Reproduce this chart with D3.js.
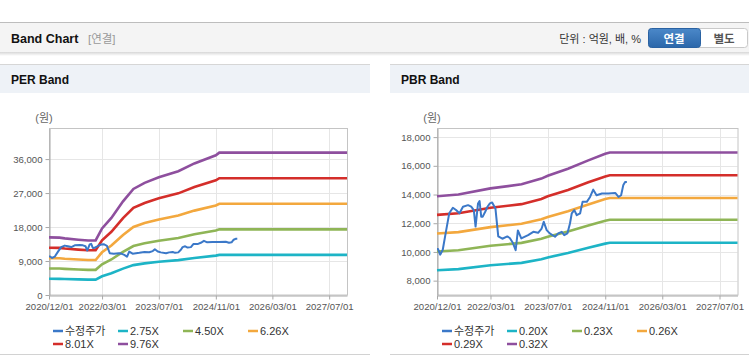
<!DOCTYPE html>
<html>
<head>
<meta charset="utf-8">
<script src="https://cdn.jsdelivr.net/npm/d3@7"></script>
<style>
  body { margin: 0; background: #fff; }
  svg { display: block; font-family: "Liberation Sans", "Noto Sans CJK KR", sans-serif; }
</style>
</head>
<body>
<svg id="page" width="749" height="364"></svg>
<script>
'use strict'

// shared x axis
const xRange = ['2020-12-01', '2027-12-01']
const xTickDates = ['2020-12-01', '2022-03-01', '2023-07-01', '2024-11-01', '2026-03-01', '2027-07-01']

// 수정주가 (same series in both charts)
const priceDates = ['2020-12-01','2020-12-10','2020-12-28','2021-01-19','2021-02-15','2021-03-15','2021-04-15','2021-05-12','2021-06-10','2021-07-10',
  '2021-08-22','2021-09-18','2021-10-10','2021-10-25','2021-11-15','2021-11-28','2021-12-12','2021-12-25','2022-01-15','2022-02-03',
  '2022-02-24','2022-03-15','2022-04-12','2022-05-06','2022-06-10','2022-07-22','2022-08-12','2022-09-08','2022-10-01','2022-10-20',
  '2022-11-18','2023-01-15','2023-02-28','2023-04-10','2023-05-10','2023-05-28','2023-06-22','2023-07-18','2023-09-01','2023-09-28',
  '2023-10-28','2023-11-18','2023-12-15','2024-01-06','2024-01-21','2024-02-12','2024-03-04','2024-04-01','2024-04-22','2024-05-28',
  '2024-06-25','2024-07-22','2024-08-19','2024-10-04','2024-11-28','2025-01-25','2025-02-22','2025-03-16','2025-04-03','2025-04-19','2025-05-04']
const priceValues = [10200,10200,9810,10150,11420,12690,13080,12920,12690,13150,
  13260,13150,12920,11770,13380,13550,12460,12460,12800,13150,
  13380,13450,13030,11080,10920,11080,10970,10620,10120,11500,
  10940,11170,11400,11330,11630,12100,11520,11290,11060,11290,
  11400,11170,11290,11980,12680,12910,12560,12680,13490,13490,
  13830,14340,13950,14070,14070,14110,13830,13950,14640,14870,14870]

// PER band
const perLabels = ['수정주가', '2.75X', '4.50X', '6.26X', '8.01X', '9.76X']
const perTicks = [0, 9000, 18000, 27000, 36000]
const perBandDates = ['2020-12-01','2021-03-01','2021-04-15','2021-08-10','2021-11-01','2022-01-05','2022-03-01','2022-05-20','2022-08-28',
  '2022-11-25','2023-03-01','2023-07-01','2023-12-15','2024-05-01','2024-11-01','2024-12-01','2027-12-01']
const per275 = [4300,4280,4230,4130,4070,4070,4970,5750,6990,7920,8370,8790,9240,9820,10430,10620,10620]
const per450 = [7030,7010,6920,6760,6660,6660,8130,9410,11440,12960,13700,14390,15120,16070,17060,17380,17380]
const per626 = [9780,9750,9620,9400,9270,9270,11310,13090,15910,18020,19050,20010,21040,22350,23730,24180,24180]
const per801 = [12520,12470,12310,12020,11860,11860,14470,16740,20350,23060,24380,25610,26920,28600,30370,30940,30940]
const per976 = [15250,15200,15000,14650,14450,14450,17640,20400,24800,28100,29700,31200,32800,34850,37000,37700,37700]

// PBR band
const pbrLabels = ['수정주가', '0.20X', '0.23X', '0.26X', '0.29X', '0.32X']
const pbrTicks = [8000, 10000, 12000, 14000, 16000, 18000]
const pbrBandDates = ['2020-12-01','2021-06-01','2022-03-01','2022-11-20','2023-05-08','2023-07-01','2023-12-20','2024-06-10','2024-11-01','2024-12-10','2027-12-01']
const pbr020 = [8720,8800,9070,9240,9490,9620,9930,10290,10580,10640,10640]
const pbr023 = [10030,10120,10430,10630,10920,11060,11420,11840,12170,12240,12240]
const pbr026 = [11280,11380,11730,11960,12280,12440,12840,13310,13690,13760,13760]
const pbr029 = [12580,12690,13080,13330,13690,13880,14320,14850,15260,15340,15340]
const pbr032 = [13880,14000,14430,14710,15110,15310,15800,16380,16840,16930,16930]

const colors = ['#3b78c8', '#1db4c6', '#8fb556', '#f3a83e', '#d42e2a', '#8e4f9e']

const parse = d3.timeParse('%Y-%m-%d')
const svg = d3.select('#page')
const defs = svg.append('defs')

// ---------- page header ----------
let sh = defs.append('linearGradient').attr('id', 'shadow').attr('x1', 0).attr('y1', 0).attr('x2', 0).attr('y2', 1)
sh.append('stop').attr('offset', 0).attr('stop-color', '#000').attr('stop-opacity', 0.16)
sh.append('stop').attr('offset', 1).attr('stop-color', '#000').attr('stop-opacity', 0)
let bg = defs.append('linearGradient').attr('id', 'btn').attr('x1', 0).attr('y1', 0).attr('x2', 0).attr('y2', 1)
bg.append('stop').attr('offset', 0).attr('stop-color', '#4b88c9')
bg.append('stop').attr('offset', 1).attr('stop-color', '#2b67aa')

svg.append('rect').attr('x', 0).attr('y', 22).attr('width', 749).attr('height', 30).attr('fill', '#f4f4f4')
svg.append('line').attr('x1', 0).attr('x2', 749).attr('y1', 22.5).attr('y2', 22.5).attr('stroke', '#bdbdbd')
svg.append('rect').attr('x', 0).attr('y', 52).attr('width', 749).attr('height', 4).attr('fill', 'url(#shadow)')
svg.append('text').attr('x', 11).attr('y', 43).attr('font-size', 12.5).attr('font-weight', 'bold').attr('fill', '#111').text('Band Chart')
svg.append('text').attr('x', 88).attr('y', 43).attr('font-size', 11.5).attr('fill', '#999').text('[연결]')
svg.append('text').attr('x', 641).attr('y', 43).attr('text-anchor', 'end').attr('font-size', 11).attr('fill', '#333').text('단위 : 억원, 배, %')

svg.append('rect').attr('x', 648.5).attr('y', 28.5).attr('width', 99).attr('height', 19).attr('rx', 3)
  .attr('fill', '#fff').attr('stroke', '#c9c9c9')
svg.append('rect').attr('x', 648.5).attr('y', 28.5).attr('width', 52).attr('height', 19).attr('rx', 3)
  .attr('fill', 'url(#btn)').attr('stroke', '#2a62a2')
svg.append('text').attr('x', 674).attr('y', 42.5).attr('text-anchor', 'middle').attr('font-size', 11.5)
  .attr('font-weight', 'bold').attr('fill', '#fff').text('연결')
svg.append('text').attr('x', 724).attr('y', 42.5).attr('text-anchor', 'middle').attr('font-size', 11.5)
  .attr('font-weight', 'bold').attr('fill', '#555').text('별도')

// ---------- one band panel ----------
function drawPanel(opt) {
  const g = svg.append('g')

  g.append('rect').attr('x', opt.px).attr('y', 64).attr('width', opt.pw).attr('height', 29).attr('fill', '#eef2f7')
  g.append('line').attr('x1', opt.px).attr('x2', opt.px + opt.pw).attr('y1', 64.5).attr('y2', 64.5).attr('stroke', '#d6d6d6')
  g.append('text').attr('x', opt.px + 11).attr('y', 84).attr('font-size', 12).attr('font-weight', 'bold')
    .attr('fill', '#111').text(opt.title)
  g.append('line').attr('x1', opt.px).attr('x2', opt.px + opt.pw).attr('y1', 354.5).attr('y2', 354.5).attr('stroke', '#d2d2d2')

  const x = d3.scaleTime().domain(xRange.map(parse)).range([opt.left, opt.right])
  const y = d3.scaleLinear().domain(opt.yDomain).range([295, 128.5])

  // grid
  g.append('g').selectAll('line').data(opt.ticks.filter(t => t !== opt.yDomain[0]))
    .join('line')
    .attr('x1', opt.left).attr('x2', opt.right)
    .attr('y1', d => Math.round(y(d)) + 0.5).attr('y2', d => Math.round(y(d)) + 0.5)
    .attr('stroke', '#e6e6e6')
  g.append('g').selectAll('line').data(xTickDates.slice(1).map(parse))
    .join('line')
    .attr('x1', d => Math.round(x(d)) + 0.5).attr('x2', d => Math.round(x(d)) + 0.5)
    .attr('y1', 128.5).attr('y2', 295)
    .attr('stroke', '#e6e6e6')

  g.append('rect').attr('x', opt.left + 0.5).attr('y', 128.5).attr('width', opt.right - opt.left).attr('height', 166.5)
    .attr('fill', 'none').attr('stroke', '#c4c4c4')

  const yAxis = g.append('g').attr('transform', `translate(${opt.left + 0.5},0)`)
    .call(d3.axisLeft(y).tickValues(opt.ticks).tickSize(4).tickSizeOuter(0).tickPadding(3).tickFormat(d3.format(',')))
  const xAxis = g.append('g').attr('transform', 'translate(0,295.5)')
    .call(d3.axisBottom(x).tickValues(xTickDates.map(parse)).tickSize(4).tickSizeOuter(0).tickPadding(4)
      .tickFormat(d3.timeFormat('%Y/%m/%d')))
  for (const ax of [yAxis, xAxis]) {
    ax.select('.domain').attr('stroke', '#a8a8a8')
    ax.selectAll('.tick line').attr('stroke', '#a8a8a8')
    ax.selectAll('.tick text').attr('fill', '#555').attr('font-size', 9.6)
      .attr('font-family', '"Liberation Sans", sans-serif')
  }

  g.append('text').attr('x', opt.left - 5).attr('y', 122).attr('text-anchor', 'middle')
    .attr('font-size', 11).attr('fill', '#666').text('(원)')

  const line = d3.line().x(d => x(d[0])).y(d => y(d[1]))
  const bandDates = opt.bandDates.map(parse)
  opt.bands.forEach((vals, i) => {
    g.append('path')
      .datum(vals.map((v, k) => [bandDates[k], v]))
      .attr('d', line)
      .attr('fill', 'none').attr('stroke', colors[i + 1]).attr('stroke-width', 2.6)
  })
  g.append('path')
    .datum(priceValues.map((v, k) => [parse(priceDates[k]), v]))
    .attr('d', line)
    .attr('fill', 'none').attr('stroke', colors[0]).attr('stroke-width', 2).attr('stroke-linejoin', 'round')

  // legend
  const leg = g.append('g').selectAll('g').data(opt.labels).join('g')
    .attr('transform', (d, i) => `translate(${opt.legendX + (i % 4) * 65},${i < 4 ? 331 : 344})`)
  leg.append('line').attr('x1', 0).attr('x2', 10).attr('stroke', (d, i) => colors[i]).attr('stroke-width', 2.5)
  leg.append('text').attr('x', 12).attr('y', 4).attr('font-size', 11).attr('fill', '#333').text(d => d)
}

drawPanel({
  title: 'PER Band', px: 0, pw: 370, left: 49, right: 347, yDomain: [0, 44100], ticks: perTicks,
  bandDates: perBandDates, bands: [per275, per450, per626, per801, per976], labels: perLabels, legendX: 53
})
drawPanel({
  title: 'PBR Band', px: 390, pw: 359, left: 437, right: 737.5, yDomain: [7000, 18600], ticks: pbrTicks,
  bandDates: pbrBandDates, bands: [pbr020, pbr023, pbr026, pbr029, pbr032], labels: pbrLabels, legendX: 442
})
</script>
</body>
</html>
